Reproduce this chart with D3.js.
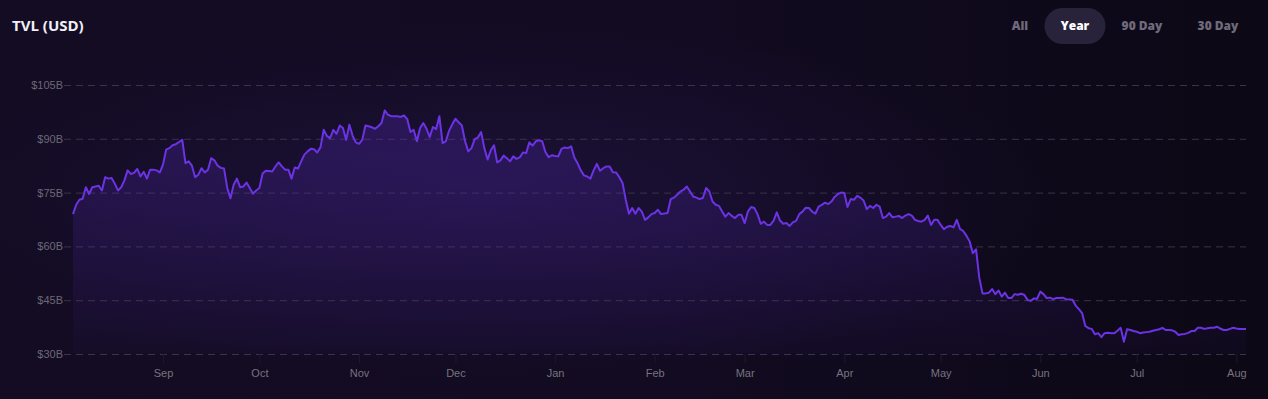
<!DOCTYPE html>
<html>
<head>
<meta charset="utf-8">
<script src="https://cdn.jsdelivr.net/npm/d3@7"></script>
<style>
  html, body { margin: 0; padding: 0; background: #100a1d; }
  #tvl { width: 1268px; height: 399px; }
</style>
</head>
<body>
<div id="tvl"></div>
<script>
// daily TVL in $B, starting 2021-08-04
const startDate = "2021-08-04";
const tvl = [
  69.0, 71.6, 73.0, 73.3, 76.5, 74.6, 76.5, 76.7, 76.9, 75.6,
  79.3, 78.9, 79.1, 77.5, 75.6, 76.5, 78.4, 81.2, 80.2, 80.5,
  81.6, 79.5, 80.8, 78.9, 81.4, 81.4, 81.2, 80.6, 82.8, 87.0,
  87.4, 88.2, 88.5, 89.1, 89.7, 83.2, 83.7, 82.5, 79.3, 80.0,
  81.8, 80.6, 81.4, 84.6, 84.0, 82.5, 81.9, 81.7, 76.3, 73.4,
  77.2, 78.9, 76.5, 76.7, 77.8, 76.3, 74.7, 75.6, 76.3, 80.3,
  81.1, 81.0, 80.9, 82.3, 83.4, 82.3, 81.4, 81.4, 78.9, 82.0,
  81.7, 83.7, 85.6, 86.5, 87.2, 87.1, 86.2, 87.6, 92.5, 90.8,
  90.2, 92.5, 91.4, 93.7, 93.0, 89.7, 93.9, 90.9, 89.0, 88.6,
  89.7, 93.7, 93.5, 93.2, 92.8, 93.5, 94.4, 97.9, 96.7, 96.3,
  96.3, 96.3, 96.1, 96.5, 95.5, 91.9, 92.5, 89.3, 93.0, 94.4,
  92.8, 90.5, 93.3, 92.7, 96.3, 88.8, 89.3, 92.2, 94.0, 95.6,
  94.6, 93.7, 89.3, 86.5, 87.4, 89.9, 90.4, 91.9, 87.4, 84.2,
  86.8, 88.2, 83.4, 84.0, 85.3, 84.6, 83.7, 85.1, 84.4, 84.8,
  86.2, 86.0, 89.0, 88.1, 89.3, 89.6, 89.3, 86.3, 84.9, 85.4,
  85.2, 85.1, 87.2, 87.6, 87.4, 87.9, 84.8, 83.2, 81.2, 79.8,
  79.5, 78.9, 81.2, 83.0, 81.1, 81.8, 82.3, 82.3, 80.7, 80.6,
  79.3, 77.7, 73.0, 69.1, 70.7, 69.1, 70.7, 69.7, 67.4, 68.1,
  69.0, 69.3, 70.2, 69.0, 69.2, 69.3, 73.2, 73.6, 74.4, 75.3,
  75.8, 76.7, 75.3, 73.9, 73.6, 73.2, 73.5, 76.3, 75.3, 72.5,
  71.6, 71.3, 69.7, 68.3, 69.3, 68.5, 67.9, 68.8, 68.8, 66.5,
  69.7, 71.0, 70.7, 69.0, 66.3, 66.9, 66.0, 66.0, 67.2, 69.5,
  67.2, 66.3, 66.5, 65.7, 66.7, 67.1, 69.0, 69.7, 70.8, 70.7,
  69.7, 69.1, 71.1, 71.6, 72.2, 71.8, 72.5, 73.8, 74.6, 75.0,
  74.9, 71.0, 73.2, 73.0, 74.1, 73.6, 72.8, 70.4, 71.3, 70.7,
  71.6, 71.1, 67.9, 68.3, 69.3, 68.1, 68.3, 68.5, 67.9, 68.6,
  69.0, 68.6, 67.4, 67.1, 66.9, 67.4, 68.6, 66.0, 67.4, 67.4,
  66.0, 64.8, 65.5, 65.7, 65.3, 67.4, 64.9, 64.3, 63.0, 61.4,
  58.1, 59.2, 51.3, 46.9, 46.9, 47.1, 48.1, 46.7, 47.7, 46.0,
  47.1, 45.6, 45.6, 46.7, 46.5, 46.8, 46.5, 45.1, 44.8, 45.5,
  45.4, 47.4, 46.7, 45.6, 45.7, 45.3, 45.6, 45.6, 45.7, 45.3,
  45.2, 45.1, 43.5, 42.5, 41.4, 37.8, 37.2, 37.0, 35.5, 35.8,
  34.7, 35.8, 35.9, 35.8, 35.8, 36.5, 37.3, 33.4, 36.9, 36.7,
  36.4, 36.2, 35.8, 36.0, 36.1, 36.2, 36.5, 36.7, 36.9, 37.3,
  36.7, 36.7, 36.6, 36.2, 35.3, 35.5, 35.6, 35.9, 36.4, 36.4,
  37.3, 37.3, 37.0, 37.2, 37.3, 37.3, 37.6, 37.1, 36.7, 36.7,
  37.0, 37.3, 37.1, 37.0, 37.0, 37.0
];
const yTicks = [30, 45, 60, 75, 90, 105];
const ranges = ["All", "Year", "90 Day", "30 Day"];
const activeRange = "Year";

const W = 1268, H = 399;
const margin = { top: 85, right: 22, bottom: 45, left: 73 };
const width = W - margin.left - margin.right,
      height = H - margin.top - margin.bottom;

const parse = d3.timeParse("%Y-%m-%d");
const t0 = parse(startDate);
const data = tvl.map((v, i) => ({ date: d3.timeDay.offset(t0, i), value: v }));

const root = d3.select("#tvl")
    .append("svg")
    .attr("width", W)
    .attr("height", H)
    .style("display", "block");

const defs = root.append("defs");

const bg = defs.append("linearGradient").attr("id", "bg")
    .attr("x1", "0%").attr("y1", "0%").attr("x2", "100%").attr("y2", "0%");
bg.append("stop").attr("offset", "0%").attr("stop-color", "#130c22");
bg.append("stop").attr("offset", "55%").attr("stop-color", "#120b21");
bg.append("stop").attr("offset", "100%").attr("stop-color", "#0c0815");

const glow = defs.append("radialGradient").attr("id", "glow")
    .attr("cx", "38%").attr("cy", "50%").attr("r", "45%");
glow.append("stop").attr("offset", "0%").attr("stop-color", "#24154a").attr("stop-opacity", 0.55);
glow.append("stop").attr("offset", "100%").attr("stop-color", "#24154a").attr("stop-opacity", 0);

const areaFill = defs.append("linearGradient").attr("id", "areaFill")
    .attr("gradientUnits", "userSpaceOnUse")
    .attr("x1", 0).attr("y1", 0).attr("x2", 0).attr("y2", height);
areaFill.append("stop").attr("offset", "0%").attr("stop-color", "#5a2bc4").attr("stop-opacity", 0.32);
areaFill.append("stop").attr("offset", "100%").attr("stop-color", "#5a2bc4").attr("stop-opacity", 0.04);

root.append("rect").attr("width", W).attr("height", H).attr("fill", "url(#bg)");
root.append("rect").attr("width", W).attr("height", H).attr("fill", "url(#glow)");

// header
root.append("text")
    .attr("x", 12)
    .attr("y", 31)
    .text("TVL (USD)")
    .style("font-family", "'Open Sans', Lato, sans-serif")
    .style("font-weight", "700")
    .style("font-size", "15px")
    .attr("fill", "#f1eef7");

const btnCenter = { "All": 1020, "Year": 1075, "90 Day": 1142, "30 Day": 1218 };

root.append("rect")
    .attr("x", btnCenter[activeRange] - 30.5)
    .attr("y", 8)
    .attr("width", 61)
    .attr("height", 36)
    .attr("rx", 18)
    .attr("fill", "#28223a");

root.selectAll(".btn")
    .data(ranges)
    .join("text")
    .attr("class", "btn")
    .attr("x", d => btnCenter[d])
    .attr("y", 30)
    .attr("text-anchor", "middle")
    .text(d => d)
    .style("font-family", "'Open Sans', Lato, sans-serif")
    .style("font-weight", "800")
    .style("font-size", "12px")
    .attr("fill", d => d === activeRange ? "#ffffff" : "#6f6a7c");

const svg = root.append("g")
    .attr("transform", `translate(${margin.left},${margin.top})`);

const x = d3.scaleTime()
    .domain(d3.extent(data, d => d.date))
    .range([0, width]);

const y = d3.scaleLinear()
    .domain([30, 105])
    .range([height, 0]);

// grid + y labels
const yAxis = svg.append("g")
    .call(d3.axisLeft(y)
        .tickValues(yTicks)
        .tickSize(-(width + 9))
        .tickPadding(1)
        .tickFormat(d => "$" + d + "B"))
    .attr("transform", "translate(-9,0)");
yAxis.select(".domain").remove();
yAxis.selectAll("line")
    .attr("stroke", "#3a3349")
    .attr("stroke-dasharray", "7,5");
yAxis.selectAll("text")
    .attr("fill", "#6c6878")
    .style("font-family", "'Liberation Sans', Arial, sans-serif")
    .style("font-size", "11px");

// x axis
const xAxis = svg.append("g")
    .attr("transform", `translate(0,${height})`)
    .call(d3.axisBottom(x)
        .ticks(d3.timeMonth.every(1))
        .tickSize(9)
        .tickPadding(6)
        .tickFormat(d3.timeFormat("%b")));
xAxis.select(".domain").remove();
xAxis.selectAll("line").attr("stroke", "#1f192c");
xAxis.selectAll("text")
    .attr("fill", "#77737f")
    .style("font-family", "'Liberation Sans', Arial, sans-serif")
    .style("font-size", "11px");

svg.append("path")
    .datum(data)
    .attr("fill", "url(#areaFill)")
    .attr("d", d3.area()
        .x(d => x(d.date))
        .y0(height)
        .y1(d => y(d.value)));

svg.append("path")
    .datum(data)
    .attr("fill", "none")
    .attr("stroke", "#6c33e4")
    .attr("stroke-width", 2)
    .attr("stroke-linejoin", "round")
    .attr("d", d3.line()
        .x(d => x(d.date))
        .y(d => y(d.value)));
</script>
</body>
</html>
